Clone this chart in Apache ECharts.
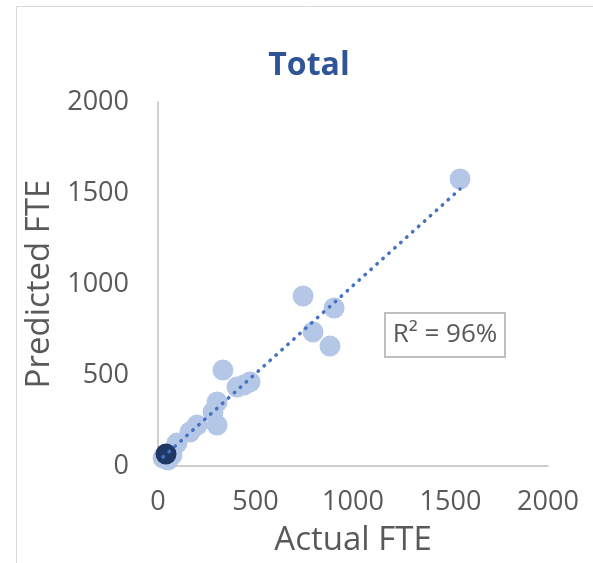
<!DOCTYPE html>
<html>
<head>
<meta charset="utf-8">
<script src="https://cdn.jsdelivr.net/npm/echarts@6/dist/echarts.min.js"></script>
<style>
  html, body { margin: 0; padding: 0; background: #ffffff; }
  #chart { width: 593px; height: 563px; }
</style>
</head>
<body>
<div id="chart"></div>
<script>
// Actual vs predicted FTE per unit
const actualFTE    = [1549, 744, 903, 795, 882, 333, 472, 405, 441, 303, 282, 303, 200, 164, 97, 72, 51, 26];
const predictedFTE = [1577, 934, 868, 736, 659, 527, 462, 434, 445, 352, 297, 225, 225, 187, 126, 60, 33, 44];
// Highlighted unit
const highlightActual    = [41];
const highlightPredicted = [66];
// Axis ticks
const axisTicks = [0, 500, 1000, 1500, 2000];
const fitLabel = 'R² = 96%';

const FONT = 'Open Sans';
const GREY = '#595959';

// Least-squares trend line over every point
const allX = actualFTE.concat(highlightActual);
const allY = predictedFTE.concat(highlightPredicted);
const n = allX.length;
const mx = allX.reduce((a, b) => a + b, 0) / n;
const my = allY.reduce((a, b) => a + b, 0) / n;
let sxy = 0, sxx = 0;
for (let i = 0; i < n; i++) {
  sxy += (allX[i] - mx) * (allY[i] - my);
  sxx += (allX[i] - mx) * (allX[i] - mx);
}
const slope = sxy / sxx;
const intercept = my - slope * mx;
const xMin = Math.min(...allX), xMax = Math.max(...allX);
const trend = [[xMin, intercept + slope * xMin], [xMax, intercept + slope * xMax]];

const chart = echarts.init(document.getElementById('chart'), null, { renderer: 'canvas' });

const axisCommon = {
  type: 'value',
  min: axisTicks[0],
  max: axisTicks[axisTicks.length - 1],
  interval: axisTicks[1] - axisTicks[0],
  axisLine: { show: true, lineStyle: { color: '#bfbfbf', width: 1.5 } },
  axisTick: { show: false },
  splitLine: { show: false },
  axisLabel: { color: GREY, fontFamily: FONT, fontSize: 27, formatter: v => String(v) },
  nameTextStyle: { color: GREY, fontFamily: FONT, fontSize: 33 },
  nameLocation: 'middle'
};

chart.setOption({
  animation: false,
  backgroundColor: '#ffffff',
  title: {
    text: 'Total',
    left: 304,
    textAlign: 'center',
    top: 45,
    textStyle: { color: '#2f5597', fontFamily: FONT, fontWeight: 'bold', fontSize: 32 }
  },
  grid: { left: 158, right: 45, top: 102, bottom: 97, outerBoundsMode: 'none', containLabel: false },
  xAxis: Object.assign({}, axisCommon, {
    name: 'Actual FTE',
    nameGap: 58,
    axisLabel: Object.assign({}, axisCommon.axisLabel, { margin: 23 })
  }),
  yAxis: Object.assign({}, axisCommon, {
    name: 'Predicted FTE',
    nameGap: 96,
    nameRotate: 90,
    axisLabel: Object.assign({}, axisCommon.axisLabel, { margin: 29 })
  }),
  series: [
    {
      type: 'scatter',
      symbolSize: 21,
      itemStyle: { color: '#b4c7e7', opacity: 1 },
      data: actualFTE.map((x, i) => [x, predictedFTE[i]]),
      z: 2
    },
    {
      type: 'scatter',
      symbolSize: 21,
      itemStyle: { color: '#203864', opacity: 1 },
      data: highlightActual.map((x, i) => [x, highlightPredicted[i]]),
      z: 3
    },
    {
      type: 'line',
      data: trend,
      showSymbol: false,
      symbol: 'none',
      lineStyle: { color: '#4472c4', width: 3.5, type: [0.5, 7.5], cap: 'round' },
      z: 4,
      silent: true
    }
  ],
  graphic: [
    {
      type: 'rect',
      left: 14, top: 4,
      shape: { width: 700, height: 700 },
      style: { fill: 'none', stroke: '#d9d9d9', lineWidth: 1 },
      silent: true
    },
    {
      type: 'group',
      left: 384, top: 312,
      children: [
        {
          type: 'rect',
          shape: { x: 0, y: 0, width: 120, height: 44 },
          style: { fill: '#ffffff', stroke: '#bfbfbf', lineWidth: 2 }
        },
        {
          type: 'text',
          x: 60, y: 22,
          style: {
            text: fitLabel,
            fill: GREY,
            font: '26px "' + FONT + '"',
            align: 'center',
            verticalAlign: 'middle'
          }
        }
      ]
    }
  ]
});
</script>
</body>
</html>
